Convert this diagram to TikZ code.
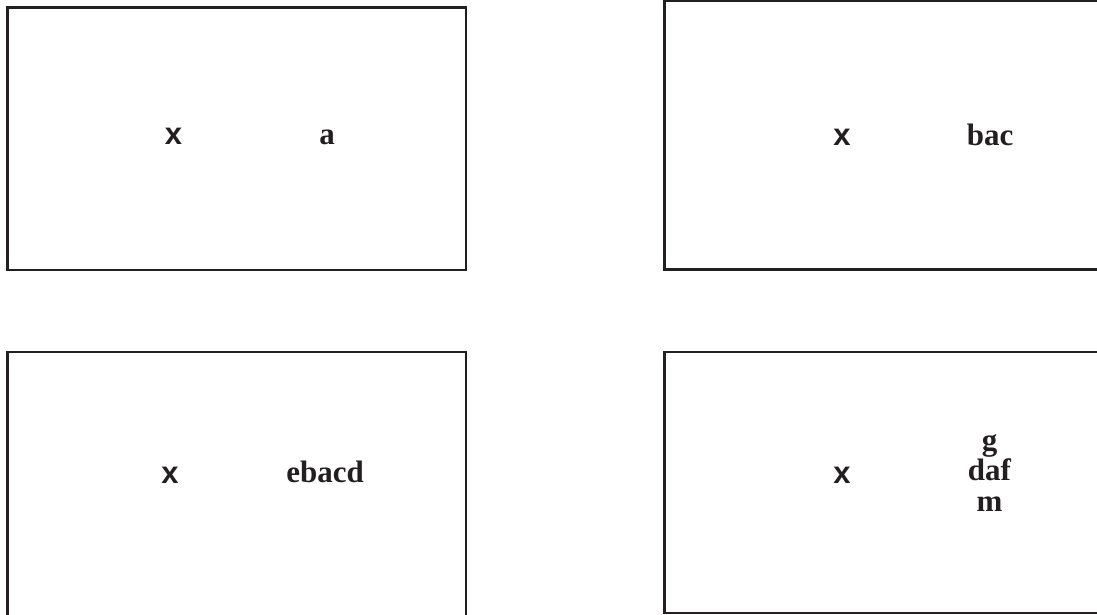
\documentclass[tikz,border=0pt]{standalone}
\usepackage{fontspec}
\setmainfont{Liberation Serif}
\setsansfont{Liberation Sans}
\definecolor{ink}{HTML}{231F20}
\begin{document}
\begin{tikzpicture}[x=1pt,y=-1pt,
  panel/.style={draw=ink,line width=2.3pt},
  sanslbl/.style={anchor=base,inner sep=0pt,text=ink,font=\fontsize{31}{31}\selectfont\sffamily\bfseries},
  seriflbl/.style={anchor=base,inner sep=0pt,text=ink,font=\fontsize{31}{30.5}\selectfont\rmfamily\bfseries,align=center}]
\useasboundingbox (0,0) rectangle (1097,615);
\clip (0,0) rectangle (1097,615);
% panels
\draw[panel] (7.5,7.5) rectangle (466,270);
\draw[panel] (664.5,1) rectangle (1110,269.5);
\draw[panel] (7.5,352) rectangle (466,630);
\draw[panel] (664.5,352) rectangle (1110,613);
% labels
\node[sanslbl] (x1) at (173.5,145) {x};
\node[seriflbl] (l1) at (327,145) {a};
\node[sanslbl] (x2) at (842,145.5) {x};
\node[seriflbl] (l2) at (990,145.5) {bac};
\node[sanslbl] (x3) at (170,483) {x};
\node[seriflbl] (l3) at (325,482) {ebacd};
\node[sanslbl] (x4) at (842,483) {x};
\node[seriflbl] (l4) at (989.5,511) {g\\daf\\m};
\end{tikzpicture}
\end{document}
